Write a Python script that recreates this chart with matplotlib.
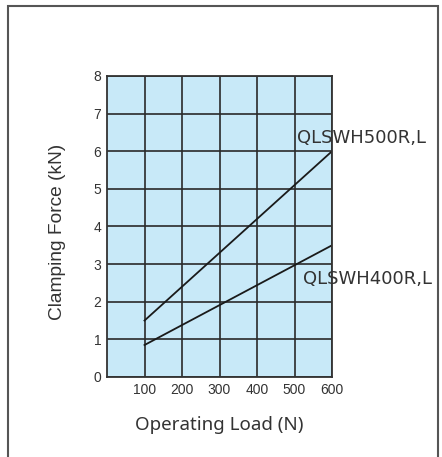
import matplotlib.pyplot as plt
from matplotlib.patches import Rectangle

plt.rcParams['font.family'] = ['Liberation Sans', 'DejaVu Sans']

# operating load (N) vs clamping force (kN)
load = [100, 600]
force_500 = [1.5, 6.0]
force_400 = [0.85, 3.5]
x_ticks = [100, 200, 300, 400, 500, 600]
y_ticks = [0, 1, 2, 3, 4, 5, 6, 7, 8]

fig = plt.figure(figsize=(4.42, 4.57), dpi=100)

# outer frame
fig.patches.append(Rectangle((8/442, -0.05), 430/442, 1 - 6/457 + 0.05,
                             transform=fig.transFigure, fill=False,
                             edgecolor='#555555', lw=1.5))

ax = fig.add_axes([107/442, 80/457, 225/442, 301/457])
ax.set_facecolor('#c8e9f8')
ax.set_xlim(0, 600)
ax.set_ylim(0, 8)
ax.set_xticks(x_ticks)
ax.set_yticks(y_ticks)
ax.grid(True, color='#2a2a2a', lw=1.2)
ax.set_axisbelow(True)
ax.tick_params(length=0, labelsize=10, colors='#333333', pad=4)
for s in ax.spines.values():
    s.set_color('#333333')
    s.set_linewidth(1.3)

ax.plot(load, force_500, color='#1a1a1a', lw=1.3)
ax.plot(load, force_400, color='#1a1a1a', lw=1.3)

ax.text(297/442, 1 - 138/457, 'QLSWH500R,L', transform=fig.transFigure,
        fontsize=13, family='DejaVu Sans', color='#333333', va='center', ha='left')
ax.text(303/442, 1 - 279/457, 'QLSWH400R,L', transform=fig.transFigure,
        fontsize=13, family='DejaVu Sans', color='#333333', va='center', ha='left')

ax.set_xlabel('Operating Load (N)', fontsize=13.5, family='Noto Sans',
              color='#333333', labelpad=14)
ax.set_ylabel('Clamping Force (kN)', fontsize=13.8, color='#333333')
ax.yaxis.set_label_coords(-0.18, 0.482)

fig.savefig('out.png', dpi=100)
